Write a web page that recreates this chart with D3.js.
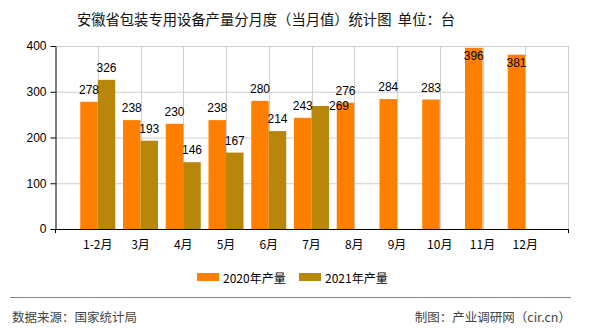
<!DOCTYPE html>
<html><head><meta charset="utf-8">
<script src="https://cdn.jsdelivr.net/npm/d3@7"></script>
<style>body{margin:0;background:#fff}svg{display:block}</style>
</head><body>
<svg id="c" width="590" height="330"></svg>
<script>
const categories = ["1-2月","3月","4月","5月","6月","7月","8月","9月","10月","11月","12月"];
const series2020 = [278,238,230,238,280,243,276,284,283,396,381];
const series2021 = [326,193,146,167,214,269];
const seriesNames = ["2020年产量","2021年产量"];
const colors = ["#FF8000","#B8860B"];
const yTicks = [0,100,200,300,400];
const title = "安徽省包装专用设备产量分月度（当月值）统计图  单位：台";
const sourceText = "数据来源：国家统计局";
const creditText = "制图：产业调研网（cir.cn）";

const svg = d3.select("#c");
const L = 55, R = 568, T = 46, B = 229;
const x = d3.scalePoint().domain(categories).range([L, R]).padding(1);
const y = d3.scaleLinear().domain([0, 400]).range([B, T]);
const bw = 17.5;
const numFont = "'Liberation Sans', Arial, sans-serif";
const cjk = "'Noto Sans CJK SC', sans-serif";

// title
svg.append("text").attr("x", 266).attr("y", 18).attr("text-anchor","middle")
  .attr("dominant-baseline","central").attr("font-family", cjk).attr("font-size", 14.3)
  .attr("fill","#111").style("white-space","pre").text(title);

// grid
const g = svg.append("g");
g.selectAll(".hg").data(yTicks.filter(d=>d>0)).join("line")
  .attr("x1", L).attr("x2", R).attr("y1", d=>y(d)+0.5).attr("y2", d=>y(d)+0.5)
  .attr("stroke","#cfcfcf");
g.selectAll(".vg").data(categories).join("line")
  .attr("x1", d=>Math.round(x(d))+0.5).attr("x2", d=>Math.round(x(d))+0.5)
  .attr("y1", T).attr("y2", B).attr("stroke","#cfcfcf");
g.append("line").attr("x1", R+0.5).attr("x2", R+0.5).attr("y1", T).attr("y2", B).attr("stroke","#cfcfcf");

// bars
const all = [series2020, series2021];
const labels = [];
all.forEach((vals, si) => {
  svg.append("g").selectAll("rect").data(vals).join("rect")
    .attr("x", (d,i)=> x(categories[i]) + (si===0 ? -bw : 0))
    .attr("width", bw)
    .attr("y", d=>y(d)).attr("height", d=>B - y(d))
    .attr("fill", colors[si]);
});

// axes
const ya = svg.append("g").attr("transform", `translate(${L+0.5},0)`)
  .call(d3.axisLeft(y).tickValues(yTicks).tickSize(5).tickSizeOuter(0).tickPadding(4));
ya.select(".domain").attr("stroke","#000");
ya.selectAll("line").attr("stroke","#000");
ya.selectAll("text").attr("font-family", numFont).attr("font-size", 12).attr("fill","#000");

svg.append("line").attr("x1", L).attr("x2", R+1).attr("y1", B+0.5).attr("y2", B+0.5).attr("stroke","#000");
[L, R].forEach(px => svg.append("line").attr("x1", px+0.5).attr("x2", px+0.5).attr("y1", B).attr("y2", B+4).attr("stroke","#000"));
svg.append("g").selectAll("text").data(categories).join("text")
  .attr("x", d=>x(d)).attr("y", 243).attr("text-anchor","middle").attr("dominant-baseline","central")
  .attr("font-family", cjk).attr("font-size", 12).attr("fill","#000").text(d=>d);

// value labels with simple collision avoidance
const placed = [];
const lg = svg.append("g").attr("font-family", numFont).attr("font-size", 12).attr("fill","#000");
all.forEach((vals, si) => {
  vals.forEach((v, i) => {
    const cx = x(categories[i]) + (si===0 ? -bw/2 : bw/2);
    const top = y(v);
    let ly = top - 12, lx = cx, anchor = "middle";
    if (ly - 6 < T) ly = top + 8;
    const t = lg.append("text").attr("x", lx).attr("y", ly).attr("text-anchor", anchor)
      .attr("dominant-baseline","central").text(v);
    let bb = t.node().getBBox();
    const hit = placed.some(p => bb.x < p.x + p.width && bb.x + bb.width > p.x && bb.y < p.y + p.height - 2 && bb.y + bb.height - 2 > p.y);
    if (hit) {
      t.attr("x", cx + bw/2).attr("y", top).attr("text-anchor","start");
      bb = t.node().getBBox();
    }
    placed.push(bb);
  });
});

// legend
const legX = [197, 299];
seriesNames.forEach((n, i) => {
  svg.append("rect").attr("x", legX[i]).attr("y", 273).attr("width", 22).attr("height", 8).attr("fill", colors[i]);
  svg.append("text").attr("x", legX[i]+26).attr("y", 277.5).attr("dominant-baseline","central")
    .attr("font-family", cjk).attr("font-size", 12).attr("fill","#000").text(n);
});

// footer
svg.append("line").attr("x1", 10).attr("x2", 571).attr("y1", 297.5).attr("y2", 297.5).attr("stroke","#888").attr("stroke-width",1.2);
svg.append("text").attr("x", 12).attr("y", 316).attr("dominant-baseline","central")
  .attr("font-family", cjk).attr("font-size", 12.5).attr("fill","#444").text(sourceText);
svg.append("text").attr("x", 571).attr("y", 316).attr("dominant-baseline","central").attr("text-anchor","end")
  .attr("font-family", cjk).attr("font-size", 12.5).attr("fill","#444").text(creditText);
</script>
</body></html>
